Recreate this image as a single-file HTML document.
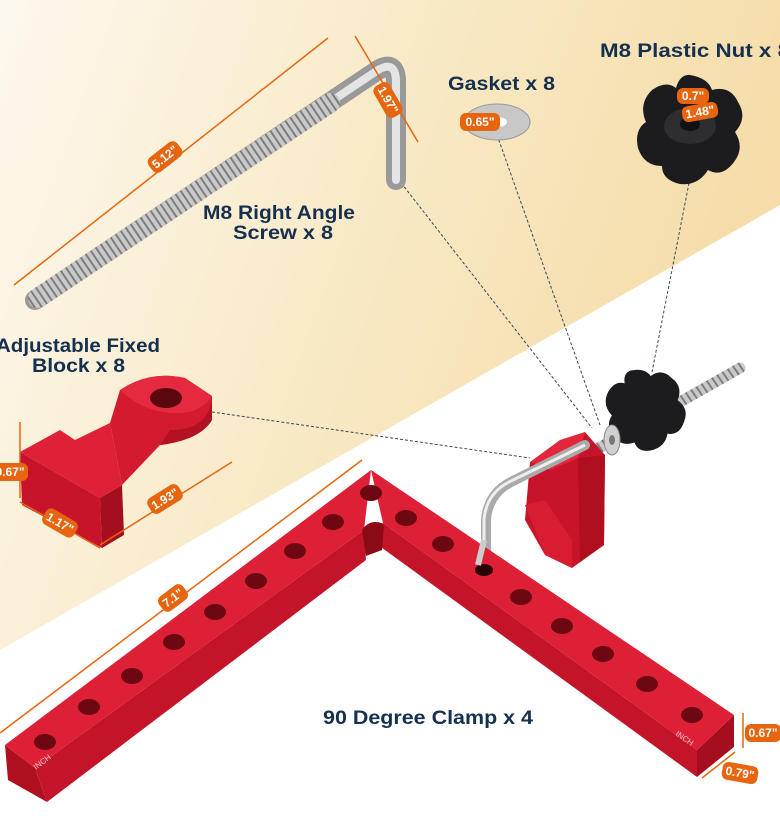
<!DOCTYPE html>
<html><head><meta charset="utf-8"><style>
html,body{margin:0;padding:0;background:#fff}
svg{display:block}
.lbl{font-family:"Liberation Sans",sans-serif;font-weight:bold;font-size:19px;fill:#16304f}
.bt{font-family:"Liberation Sans",sans-serif;font-weight:bold;font-size:12px;fill:#fff}
</style></head><body>
<svg width="780" height="825" viewBox="0 0 780 825" xmlns="http://www.w3.org/2000/svg">
<defs>
<linearGradient id="bg" x1="0" y1="0" x2="1" y2="0.3">
<stop offset="0" stop-color="#fdf8ee"/><stop offset="0.6" stop-color="#f8e7c0"/><stop offset="1" stop-color="#f5dca8"/>
</linearGradient>
<pattern id="thr" width="6" height="6" patternUnits="userSpaceOnUse" patternTransform="rotate(-34)">
<rect width="6" height="6" fill="#c9c9c9"/><rect width="2" height="6" fill="#7d7d7d"/>
</pattern>
</defs>
<rect width="780" height="825" fill="#fff"/>
<polygon points="0,0 780,0 780,205 0,650" fill="url(#bg)"/>

<!-- dashed lines -->
<g stroke="#3a4a5a" stroke-width="1" stroke-dasharray="3,2" fill="none">
<line x1="395" y1="175" x2="592" y2="428"/>
<line x1="497" y1="135" x2="600" y2="425"/>
<line x1="690" y1="178" x2="652" y2="372"/>
<line x1="212" y1="412" x2="530" y2="458"/>
</g>

<!-- L screw top -->
<path d="M35,300 L378,70 Q395,60 396,80 L396,180" stroke="#999" stroke-width="20" fill="none" stroke-linecap="round" stroke-linejoin="round"/>
<path d="M35,300 L378,70 Q395,60 396,80 L396,180" stroke="#e4e4e4" stroke-width="8" fill="none" stroke-linecap="round"/>
<line x1="38" y1="298" x2="330" y2="103" stroke="url(#thr)" stroke-width="20" stroke-linecap="round"/>

<!-- adjustable block -->
<g>
<polygon points="20,452 100,498 102,548 22,505" fill="#c8142a"/>
<polygon points="100,498 122,485 124,535 102,548" fill="#a50e1e"/>
<polygon points="20,452 60,430 75,440 110,423 122,485 100,498" fill="#df2137"/>
<path d="M110,423 L120,390 Q150,370 185,378 L212,396 L212,420 Q200,440 160,445 L122,485 Z" fill="#d41a2f"/>
<path d="M120,390 Q150,370 185,378 L212,396 Q200,415 170,413 Q140,410 120,390Z" fill="#e52a40"/>
<path d="M160,445 Q200,440 212,420 L212,396 Q210,430 170,430Z" fill="#b31222"/>
<ellipse cx="166" cy="398" rx="16" ry="10" fill="#5a0710"/>
</g>

<!-- dims -->
<g stroke="#e8650f" stroke-width="1.5">
<line x1="14" y1="285" x2="328" y2="38"/>
<line x1="355" y1="36" x2="418" y2="142"/>
<line x1="0" y1="733" x2="362" y2="460"/>
<line x1="100" y1="545" x2="232" y2="462"/>
<line x1="20" y1="502" x2="100" y2="548"/>
<line x1="20" y1="422" x2="20" y2="498"/>
<line x1="743" y1="713" x2="743" y2="748"/>
<line x1="702" y1="778" x2="735" y2="752"/>
</g>
<g class="bt">
<g transform="translate(165,157) rotate(-38)"><rect x="-18" y="-9" width="36" height="18" rx="6" fill="#e8650f"/><text x="0" y="4" text-anchor="middle">5.12"</text></g>
<g transform="translate(388,100) rotate(60)"><rect x="-18" y="-9" width="36" height="18" rx="6" fill="#e8650f"/><text x="0" y="4" text-anchor="middle">1.97"</text></g>
<g transform="translate(165,499) rotate(-32)"><rect x="-18" y="-9" width="36" height="18" rx="6" fill="#e8650f"/><text x="0" y="4" text-anchor="middle">1.93"</text></g>
<g transform="translate(60,523) rotate(30)"><rect x="-18" y="-9" width="36" height="18" rx="6" fill="#e8650f"/><text x="0" y="4" text-anchor="middle">1.17"</text></g>
<g transform="translate(12,472)"><rect x="-18" y="-9" width="34" height="18" rx="6" fill="#e8650f"/><text x="-2" y="4" text-anchor="middle">0.67"</text></g>
<g transform="translate(173,598) rotate(-37)"><rect x="-15" y="-9" width="30" height="18" rx="6" fill="#e8650f"/><text x="0" y="4" text-anchor="middle">7.1"</text></g>
<g transform="translate(763,733)"><rect x="-18" y="-9" width="36" height="18" rx="6" fill="#e8650f"/><text x="0" y="4" text-anchor="middle">0.67"</text></g>
<g transform="translate(740,773) rotate(10)"><rect x="-18" y="-9" width="36" height="18" rx="6" fill="#e8650f"/><text x="0" y="4" text-anchor="middle">0.79"</text></g>
</g>

<!-- gasket -->
<ellipse cx="497" cy="122" rx="33" ry="18" fill="#c8c8c8" stroke="#999"/>
<ellipse cx="497" cy="122" rx="10" ry="5" fill="#fff"/>
<g transform="translate(480,122)"><rect x="-20" y="-9" width="40" height="18" rx="6" fill="#e8650f"/><text class="bt" x="0" y="4" text-anchor="middle">0.65"</text></g>

<!-- nut top -->
<g transform="translate(690,130)">
<path d="M0,-55 Q18,-52 22,-40 Q40,-45 48,-28 Q58,-12 45,2 Q55,18 44,32 Q32,48 18,40 Q8,56 -10,54 Q-28,50 -28,36 Q-46,36 -52,18 Q-56,0 -44,-8 Q-52,-26 -38,-40 Q-24,-50 -14,-42 Q-10,-56 0,-55Z" fill="#1c1c1e"/>
<ellipse cx="0" cy="-4" rx="26" ry="18" fill="#2e2e30"/>
<ellipse cx="0" cy="-6" rx="10" ry="7" fill="#111"/>
<g transform="translate(3,-34)"><rect x="-16" y="-8" width="32" height="16" rx="6" fill="#e8650f"/><text class="bt" x="0" y="4" text-anchor="middle">0.7"</text></g>
<g transform="translate(10,-18) rotate(-10)"><rect x="-18" y="-8" width="36" height="16" rx="6" fill="#e8650f"/><text class="bt" x="0" y="4" text-anchor="middle">1.48"</text></g>
</g>

<!-- labels -->
<text class="lbl" x="203" y="219" textLength="152" lengthAdjust="spacingAndGlyphs">M8 Right Angle</text>
<text class="lbl" x="233" y="239" textLength="100" lengthAdjust="spacingAndGlyphs">Screw x 8</text>
<text class="lbl" x="448" y="90" textLength="107" lengthAdjust="spacingAndGlyphs">Gasket x 8</text>
<text class="lbl" x="600" y="57" textLength="190" lengthAdjust="spacingAndGlyphs">M8 Plastic Nut x 8</text>
<text class="lbl" x="-4" y="352" textLength="164" lengthAdjust="spacingAndGlyphs">Adjustable Fixed</text>
<text class="lbl" x="32" y="372" textLength="93" lengthAdjust="spacingAndGlyphs">Block x 8</text>
<text class="lbl" x="323" y="724" textLength="210" lengthAdjust="spacingAndGlyphs">90 Degree Clamp x 4</text>

<!-- assembled: rod, nut -->
<line x1="560" y1="470" x2="740" y2="368" stroke="url(#thr)" stroke-width="11" stroke-linecap="round"/>
<g transform="translate(645,410) rotate(-20)">
<path d="M0,-42 Q14,-40 17,-30 Q30,-34 36,-21 Q44,-9 34,2 Q42,14 33,24 Q24,36 13,30 Q6,42 -8,40 Q-21,38 -21,27 Q-35,27 -39,13 Q-42,0 -33,-6 Q-39,-20 -28,-30 Q-18,-38 -10,-32 Q-8,-42 0,-42Z" fill="#1c1c1e"/>
</g>
<ellipse cx="612" cy="440" rx="8" ry="15" fill="#d0d0d0" stroke="#888"/>
<ellipse cx="612" cy="440" rx="3" ry="5" fill="#777"/>
<!-- red block assembled -->
<polygon points="530,462 585,432 605,455 604,545 572,568 545,555 525,520" fill="#c8142a"/>
<polygon points="530,462 560,440 585,432 578,458 550,470" fill="#e3263b"/>
<polygon points="578,458 605,455 604,545 580,562" fill="#b00f20"/>
<polygon points="525,505 545,500 572,540 572,568 545,555" fill="#d81c31"/>
<!-- bent screw -->
<path d="M486,560 L486,520 Q488,492 515,480 L585,445" stroke="#aaa" stroke-width="10" fill="none" stroke-linecap="round"/>
<path d="M484,560 L484,520 Q486,492 513,480 L585,445" stroke="#eee" stroke-width="3" fill="none"/>

<!-- clamp -->
<g>
<polygon points="5,745 35,768 47,802 8,780" fill="#b00f20"/>
<polygon points="35,768 364,530 366,560 47,802" fill="#c4142a"/>
<polygon points="371,470 5,745 35,768 364,530" fill="#dd2036"/>
<polygon points="378,545 383,523 697,750 697,777" fill="#c4142a"/>
<polygon points="734,715 734,747 697,777 697,750" fill="#a50e1e"/>
<polygon points="371,470 734,715 697,750 383,523" fill="#dd2036"/>
<path d="M362,530 Q370,518 384,524 L382,550 L366,556Z" fill="#8a0a16"/>
<g fill="#6d0712">
<ellipse cx="371" cy="493" rx="11" ry="8"/>
<ellipse cx="333" cy="522" rx="11" ry="8"/>
<ellipse cx="295" cy="551" rx="11" ry="8"/>
<ellipse cx="256" cy="581" rx="11" ry="8"/>
<ellipse cx="215" cy="612" rx="11" ry="8"/>
<ellipse cx="174" cy="642" rx="11" ry="8"/>
<ellipse cx="132" cy="676" rx="11" ry="8"/>
<ellipse cx="89" cy="707" rx="11" ry="8"/>
<ellipse cx="45" cy="742" rx="11" ry="8"/>
<ellipse cx="406" cy="518" rx="11" ry="8"/>
<ellipse cx="443" cy="544" rx="11" ry="8"/>
<ellipse cx="521" cy="597" rx="11" ry="8"/>
<ellipse cx="562" cy="626" rx="11" ry="8"/>
<ellipse cx="603" cy="654" rx="11" ry="8"/>
<ellipse cx="647" cy="684" rx="11" ry="8"/>
<ellipse cx="692" cy="715" rx="11" ry="8"/>
</g>
<ellipse cx="484" cy="570" rx="9" ry="6" fill="#2a0307"/>
<line x1="478" y1="565" x2="484" y2="540" stroke="#ccc" stroke-width="6"/>
<text x="36" y="770" font-family="Liberation Sans,sans-serif" font-size="8" fill="#f5c0c5" transform="rotate(-37 36 770)">INCH</text>
<text x="675" y="735" font-family="Liberation Sans,sans-serif" font-size="8" fill="#f5c0c5" transform="rotate(34 675 735)">INCH</text>
</g>
</svg>
</body></html>
